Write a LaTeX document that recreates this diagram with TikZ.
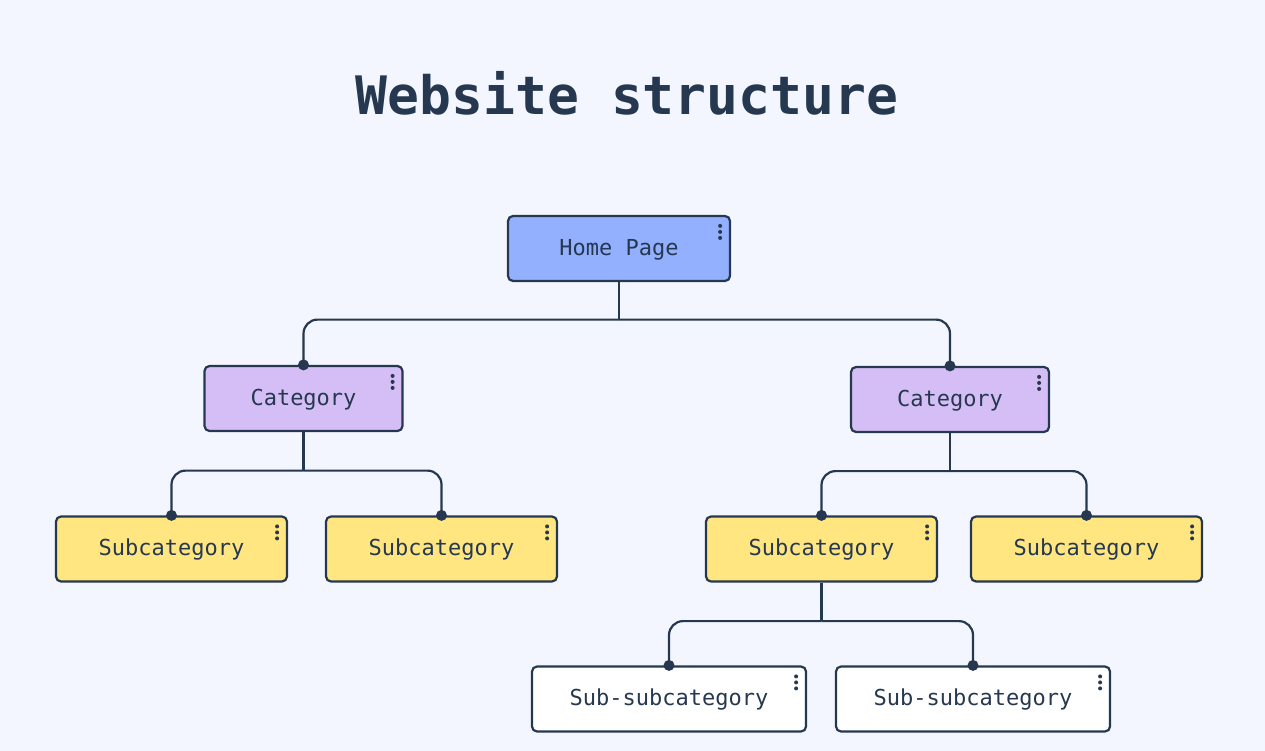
\documentclass[tikz,border=0pt]{standalone}
\usepackage{fontspec}
\setmonofont{DejaVu Sans Mono}
\usetikzlibrary{positioning}
\definecolor{ink}{HTML}{263850}
\definecolor{pagebg}{HTML}{F3F6FE}
\definecolor{homeblue}{HTML}{93B0FF}
\definecolor{catpurple}{HTML}{D4BEF5}
\definecolor{subyellow}{HTML}{FFE680}

\begin{document}
\begin{tikzpicture}[x=1pt, y=-1pt,
        box/.style={draw=ink, line width=2.2pt, rounded corners=5pt, minimum height=65pt,
            inner sep=0pt, text height=1.3em, text depth=0pt, text=ink,
            font=\ttfamily\fontsize{22}{26}\selectfont},
        homebox/.style={box, fill=homeblue, minimum width=222pt},
        catbox/.style={box, fill=catpurple, minimum width=198pt},
        subbox/.style={box, fill=subyellow, minimum width=231pt},
        subsubbox/.style={box, fill=white, minimum width=274pt},
        wire/.style={draw=ink, line width=2.2pt, rounded corners=14pt}]
        \fill[pagebg] (0,0) rectangle (1265,751);
        \node[anchor=base, text=ink, font=\ttfamily\bfseries\fontsize{53}{60}\selectfont] (title) at (627,115) {Website structure};

        \node[homebox] (home) at (619,248.5) {Home Page};
        \node[catbox] (cat1) at (303.5,398.5) {Category};
        \node[catbox] (cat2) at (950,399.5) {Category};
        \node[subbox] (sub1) at (171.5,549) {Subcategory};
        \node[subbox] (sub2) at (441.5,549) {Subcategory};
        \node[subbox] (sub3) at (821.5,549) {Subcategory};
        \node[subbox] (sub4) at (1086.5,549) {Subcategory};
        \node[subsubbox] (ssub1) at (669,699) {Sub-subcategory};
        \node[subsubbox] (ssub2) at (973,699) {Sub-subcategory};

        % menu dots in the corner of each box
        \foreach \n in {home,cat1,cat2,sub1,sub2,sub3,sub4,ssub1,ssub2}{
            \foreach \d in {11,17,23}
                \fill[ink] ([xshift=-11pt, yshift=-\d pt]\n.north east) circle(2pt);
        }

        \draw[wire] (home.south) -- ++(0,37.5) coordinate (hbus);
        \draw[wire] (hbus) -| (cat1.north);
        \draw[wire] (hbus) -| (cat2.north);
        \draw[wire] (cat1.south) -- ++(0,38.5) coordinate (c1bus);
        \draw[wire] (c1bus) -| (sub1.north);
        \draw[wire] (c1bus) -| (sub2.north);
        \draw[wire] (cat2.south) -- ++(0,38) coordinate (c2bus);
        \draw[wire] (c2bus) -| (sub3.north);
        \draw[wire] (c2bus) -| (sub4.north);
        \draw[wire] (sub3.south) -- ++(0,38.5) coordinate (s3bus);
        \draw[wire] (s3bus) -| (ssub1.north);
        \draw[wire] (s3bus) -| (ssub2.north);

        \foreach \n in {cat1,cat2,sub1,sub2,sub3,sub4,ssub1,ssub2}
            \fill[ink] (\n.north) circle(5.5pt);
\end{tikzpicture}
\end{document}
